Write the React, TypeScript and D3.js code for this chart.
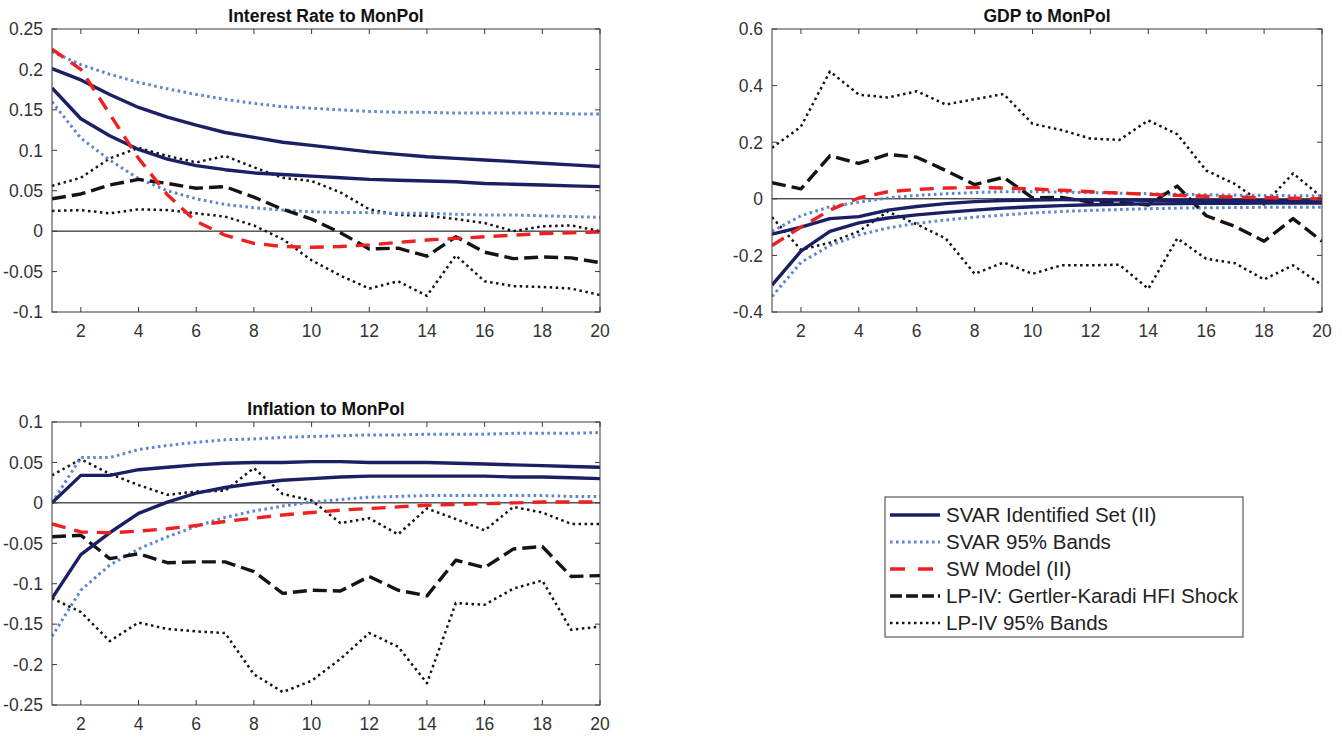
import React from "react";
import * as d3 from "d3";

const horizons = d3.range(1, 21);

// Interest Rate to MonPol
const irSvarUp = [0.201,0.187,0.169,0.153,0.141,0.131,0.122,0.116,0.110,0.106,0.102,0.098,0.095,0.092,0.090,0.088,0.086,0.084,0.082,0.080];
const irSvarLo = [0.177,0.139,0.118,0.101,0.089,0.081,0.076,0.072,0.070,0.068,0.066,0.064,0.063,0.062,0.061,0.059,0.058,0.057,0.056,0.055];
const irBandUp = [0.222,0.206,0.194,0.184,0.176,0.169,0.163,0.158,0.154,0.152,0.150,0.148,0.147,0.147,0.146,0.146,0.146,0.146,0.145,0.145];
const irBandLo = [0.160,0.115,0.088,0.065,0.050,0.040,0.033,0.029,0.026,0.024,0.023,0.023,0.022,0.022,0.021,0.020,0.020,0.019,0.018,0.017];
const irSW = [0.225,0.200,0.145,0.090,0.045,0.012,-0.005,-0.015,-0.019,-0.020,-0.019,-0.017,-0.014,-0.011,-0.009,-0.007,-0.005,-0.003,-0.002,-0.001];
const irLP = [0.040,0.046,0.057,0.064,0.059,0.053,0.055,0.042,0.027,0.015,-0.002,-0.022,-0.021,-0.031,-0.007,-0.026,-0.034,-0.032,-0.033,-0.039];
const irLPUp = [0.056,0.066,0.090,0.103,0.093,0.085,0.093,0.079,0.066,0.062,0.048,0.027,0.020,0.019,0.015,0.010,0.000,0.006,0.007,0.000];
const irLPLo = [0.025,0.026,0.022,0.027,0.026,0.022,0.018,0.007,-0.010,-0.036,-0.055,-0.071,-0.062,-0.080,-0.030,-0.062,-0.068,-0.069,-0.071,-0.079];

// GDP to MonPol
const gdpSvarUp = [-0.125,-0.100,-0.070,-0.063,-0.040,-0.027,-0.017,-0.010,-0.006,-0.004,-0.003,-0.004,-0.004,-0.005,-0.005,-0.006,-0.006,-0.007,-0.007,-0.008];
const gdpSvarLo = [-0.305,-0.185,-0.115,-0.085,-0.068,-0.057,-0.048,-0.040,-0.033,-0.028,-0.024,-0.021,-0.019,-0.018,-0.017,-0.016,-0.016,-0.015,-0.015,-0.015];
const gdpBandUp = [-0.115,-0.060,-0.028,-0.012,0.003,0.012,0.018,0.022,0.025,0.025,0.024,0.022,0.020,0.018,0.016,0.014,0.013,0.012,0.011,0.010];
const gdpBandLo = [-0.345,-0.225,-0.165,-0.128,-0.103,-0.087,-0.075,-0.065,-0.057,-0.050,-0.045,-0.041,-0.038,-0.035,-0.033,-0.032,-0.031,-0.030,-0.030,-0.030];
const gdpSW = [-0.165,-0.100,-0.040,0.003,0.025,0.033,0.038,0.040,0.038,0.035,0.030,0.025,0.020,0.016,0.012,0.009,0.006,0.004,0.002,0.000];
const gdpLP = [0.057,0.035,0.152,0.125,0.157,0.147,0.100,0.050,0.076,0.003,0.005,-0.012,-0.012,-0.022,0.045,-0.060,-0.098,-0.150,-0.070,-0.150];
const gdpLPUp = [0.180,0.255,0.450,0.368,0.358,0.380,0.333,0.352,0.370,0.265,0.243,0.213,0.208,0.277,0.228,0.100,0.052,-0.020,0.090,0.005];
const gdpLPLo = [-0.065,-0.180,-0.155,-0.115,-0.045,-0.090,-0.140,-0.265,-0.225,-0.265,-0.235,-0.235,-0.233,-0.318,-0.140,-0.212,-0.228,-0.285,-0.235,-0.305];

// Inflation to MonPol
const infSvarUp = [0.000,0.034,0.034,0.041,0.044,0.047,0.049,0.050,0.050,0.051,0.051,0.050,0.050,0.050,0.049,0.048,0.047,0.046,0.045,0.044];
const infSvarLo = [-0.118,-0.064,-0.037,-0.013,0.001,0.012,0.019,0.024,0.028,0.030,0.032,0.033,0.033,0.033,0.033,0.033,0.032,0.032,0.031,0.030];
const infBandUp = [0.000,0.056,0.056,0.066,0.071,0.075,0.078,0.079,0.081,0.082,0.083,0.084,0.084,0.085,0.085,0.085,0.086,0.086,0.086,0.087];
const infBandLo = [-0.165,-0.108,-0.077,-0.057,-0.042,-0.029,-0.018,-0.010,-0.004,0.001,0.004,0.007,0.008,0.009,0.009,0.009,0.009,0.009,0.008,0.008];
const infSW = [-0.026,-0.036,-0.037,-0.035,-0.032,-0.028,-0.023,-0.019,-0.015,-0.012,-0.009,-0.007,-0.005,-0.003,-0.002,-0.001,0.000,0.001,0.001,0.001];
const infLP = [-0.042,-0.040,-0.069,-0.063,-0.074,-0.073,-0.073,-0.085,-0.112,-0.108,-0.109,-0.091,-0.108,-0.115,-0.071,-0.080,-0.057,-0.054,-0.091,-0.090];
const infLPUp = [0.034,0.054,0.036,0.022,0.010,0.014,0.015,0.043,0.011,0.003,-0.025,-0.019,-0.039,-0.007,-0.020,-0.034,-0.005,-0.012,-0.026,-0.026];
const infLPLo = [-0.118,-0.135,-0.171,-0.148,-0.156,-0.159,-0.161,-0.212,-0.234,-0.220,-0.193,-0.161,-0.178,-0.223,-0.124,-0.126,-0.106,-0.096,-0.157,-0.153];

const xTicks = [2, 4, 6, 8, 10, 12, 14, 16, 18, 20];
const irTicks = [-0.1, -0.05, 0, 0.05, 0.1, 0.15, 0.2, 0.25];
const gdpTicks = [-0.4, -0.2, 0, 0.2, 0.4, 0.6];
const infTicks = [-0.25, -0.2, -0.15, -0.1, -0.05, 0, 0.05, 0.1];

const legendLabels = [
  "SVAR Identified Set (II)",
  "SVAR 95% Bands",
  "SW Model (II)",
  "LP-IV: Gertler-Karadi HFI Shock",
  "LP-IV 95% Bands",
];

const NAVY = "#1b1f63";
const LBLUE = "#5a86d2";
const RED = "#ee2020";
const BLACK = "#141414";
const FONT = "'Liberation Sans', Arial, Helvetica, sans-serif";

const styles = {
  svar: { stroke: NAVY, width: 3.4, dash: "none", cap: "butt" },
  band: { stroke: LBLUE, width: 3, dash: "2.6,3.4", cap: "butt" },
  sw: { stroke: RED, width: 3.4, dash: "14,9", cap: "butt" },
  lp: { stroke: BLACK, width: 3.4, dash: "14,6", cap: "butt" },
  lpband: { stroke: BLACK, width: 2.5, dash: "2.5,3.5", cap: "butt" },
};

type Panel = {
  title: string;
  left: number; right: number; top: number; bottom: number;
  domain: [number, number];
  ticks: number[];
  svar: number[][]; band: number[][]; sw: number[]; lp: number[]; lpband: number[][];
};

const panels: Panel[] = [
  { title: "Interest Rate to MonPol", left: 52, right: 600, top: 29, bottom: 312, domain: [-0.1, 0.25], ticks: irTicks,
    svar: [irSvarUp, irSvarLo], band: [irBandUp, irBandLo], sw: irSW, lp: irLP, lpband: [irLPUp, irLPLo] },
  { title: "GDP to MonPol", left: 772, right: 1322, top: 29, bottom: 312, domain: [-0.4, 0.6], ticks: gdpTicks,
    svar: [gdpSvarUp, gdpSvarLo], band: [gdpBandUp, gdpBandLo], sw: gdpSW, lp: gdpLP, lpband: [gdpLPUp, gdpLPLo] },
  { title: "Inflation to MonPol", left: 52, right: 600, top: 422, bottom: 705, domain: [-0.25, 0.1], ticks: infTicks,
    svar: [infSvarUp, infSvarLo], band: [infBandUp, infBandLo], sw: infSW, lp: infLP, lpband: [infLPUp, infLPLo] },
];

function fmt(v: number) {
  if (Math.abs(v) < 1e-9) return "0";
  return String(+v.toFixed(2));
}

function PanelView({ p }: { p: Panel }) {
  const x = d3.scaleLinear().domain([1, 20]).range([p.left, p.right]);
  const y = d3.scaleLinear().domain(p.domain).range([p.bottom, p.top]);
  const line = d3.line<number>().x((_, i) => x(horizons[i])).y((d) => y(d));
  const path = (data: number[], s: any, key: string) => (
    <path key={key} d={line(data) || ""} fill="none" stroke={s.stroke} strokeWidth={s.width}
      strokeDasharray={s.dash} strokeLinecap={s.cap} strokeLinejoin="round" />
  );
  const axisColor = "#3a3a3a";
  const tickLen = 5;
  return (
    <g>
      <defs>
        <clipPath id={"clip-" + p.left + "-" + p.top}>
          <rect x={p.left} y={p.top} width={p.right - p.left} height={p.bottom - p.top} />
        </clipPath>
      </defs>
      <g clipPath={`url(#clip-${p.left}-${p.top})`}>
        <line x1={p.left} x2={p.right} y1={y(0)} y2={y(0)} stroke="#000" strokeWidth={1} />
        {p.lpband.map((d, i) => path(d, styles.lpband, "lpb" + i))}
        {p.band.map((d, i) => path(d, styles.band, "b" + i))}
        {path(p.lp, styles.lp, "lp")}
        {p.svar.map((d, i) => path(d, styles.svar, "s" + i))}
        {path(p.sw, styles.sw, "sw")}
      </g>
      <rect x={p.left} y={p.top} width={p.right - p.left} height={p.bottom - p.top}
        fill="none" stroke={axisColor} strokeWidth={1} />
      {xTicks.map((t) => (
        <g key={"xt" + t}>
          <line x1={x(t)} x2={x(t)} y1={p.bottom} y2={p.bottom - tickLen} stroke={axisColor} />
          <line x1={x(t)} x2={x(t)} y1={p.top} y2={p.top + tickLen} stroke={axisColor} />
          <text x={x(t)} y={p.bottom + 25} textAnchor="middle" fontSize={17.5} fill="#333" fontFamily={FONT}>{t}</text>
        </g>
      ))}
      {p.ticks.map((t) => (
        <g key={"yt" + t}>
          <line x1={p.left} x2={p.left + tickLen} y1={y(t)} y2={y(t)} stroke={axisColor} />
          <line x1={p.right} x2={p.right - tickLen} y1={y(t)} y2={y(t)} stroke={axisColor} />
          <text x={p.left - 9} y={y(t)} dy="0.36em" textAnchor="end" fontSize={17.5} fill="#333" fontFamily={FONT}>{fmt(t)}</text>
        </g>
      ))}
      <text x={(p.left + p.right) / 2} y={p.top - 7} textAnchor="middle" fontSize={17.5} fontWeight="bold" fill="#111" fontFamily={FONT}>{p.title}</text>
    </g>
  );
}

function Legend() {
  const lx = 885, ly = 497, lw = 358, lh = 140;
  const rowY = d3.scaleLinear().domain([0, 4]).range([ly + 18, ly + 126]);
  const keys = ["svar", "band", "sw", "lp", "lpband"] as const;
  return (
    <g>
      <rect x={lx} y={ly} width={lw} height={lh} fill="#fff" stroke="#3a3a3a" strokeWidth={1} />
      {legendLabels.map((lab, i) => {
        const s: any = styles[keys[i]];
        const dash = keys[i] === "sw" ? "15,13" : keys[i] === "lp" ? "12,4" : s.dash;
        return (
          <g key={lab}>
            <line x1={lx + 5} x2={lx + 55} y1={rowY(i)} y2={rowY(i)} stroke={s.stroke}
              strokeWidth={s.width} strokeDasharray={dash} strokeLinecap="butt" />
            <text x={lx + 61} y={rowY(i)} dy="0.36em" fontSize={20.5} fill="#222" fontFamily={FONT}>{lab}</text>
          </g>
        );
      })}
    </g>
  );
}

export default function App() {
  return (
    <svg width={1343} height={737} style={{ position: "absolute", left: 0, top: 0, background: "#fff" }}>
      {panels.map((p) => <PanelView key={p.title} p={p} />)}
      <Legend />
    </svg>
  );
}
